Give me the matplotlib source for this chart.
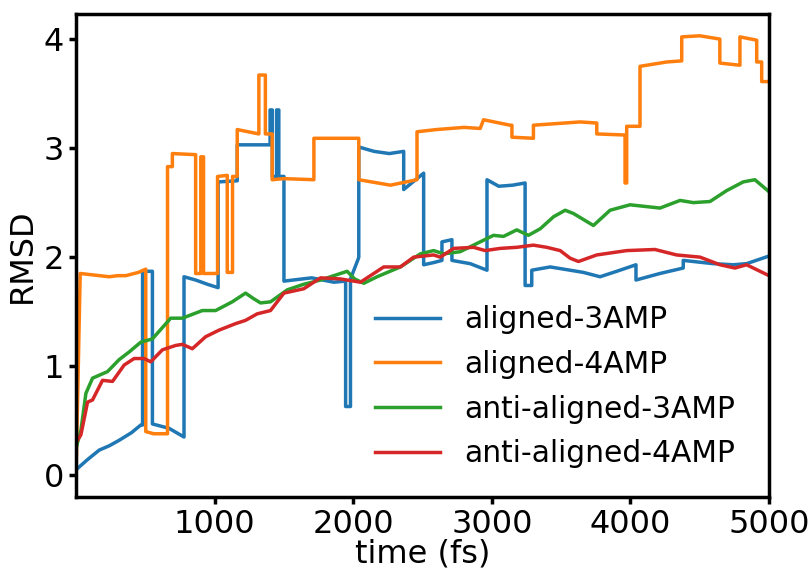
import matplotlib
matplotlib.use("Agg")
import matplotlib.pyplot as plt

labels = ["aligned-3AMP", "aligned-4AMP", "anti-aligned-3AMP", "anti-aligned-4AMP"]
colors = ["#1f77b4", "#ff7f0e", "#2ca02c", "#d62728"]

a3_t = [0, 80, 167, 240, 311, 400, 467, 480, 480, 551, 551, 671, 779, 779, 863, 950, 1025, 1025, 1163, 1163,
        1400, 1400, 1416, 1416, 1447, 1447, 1463, 1463, 1500, 1500, 1700, 1860, 1945, 1945, 1980,
        1980, 2035, 2040, 2040, 2150, 2260, 2364, 2364, 2508, 2508, 2580, 2640, 2640, 2712, 2712,
        2844, 2965, 2965, 3050, 3150, 3240, 3240, 3288, 3288, 3421, 3565, 3660, 3781, 3901, 4040,
        4040, 4213, 4381, 4381, 4598, 4742, 4838, 5000]
a3_v = [0.05, 0.14, 0.23, 0.27, 0.32, 0.39, 0.46, 0.46, 1.87, 1.87, 0.47, 0.43, 0.35, 1.82, 1.79, 1.75, 1.72, 2.69, 2.70, 3.03,
        3.03, 3.35, 3.35, 2.74, 2.74, 3.35, 3.35, 2.74, 2.74, 1.78, 1.81, 1.77, 1.78, 0.63, 0.63,
        1.80, 1.98, 2.00, 3.01, 2.97, 2.95, 2.97, 2.62, 2.77, 1.93, 1.95, 1.97, 2.14, 2.16, 1.97,
        1.94, 1.88, 2.71, 2.65, 2.66, 2.68, 1.74, 1.74, 1.88, 1.91, 1.88, 1.86, 1.82, 1.87, 1.93,
        1.79, 1.85, 1.90, 1.97, 1.94, 1.93, 1.94, 2.01]

a4_t = [0, 30, 100, 239, 300, 359, 450, 503, 503, 560, 660, 660, 695, 695, 863, 863, 900, 900, 920, 920,
        1021, 1021, 1091, 1091, 1129, 1129, 1163, 1163, 1319, 1319, 1366, 1366, 1415, 1415, 1500,
        1716, 1716, 2040, 2040, 2268, 2460, 2460, 2600, 2800, 2916, 2940, 3132, 3145, 3145, 3300,
        3300, 3637, 3757, 3757, 3961, 3961, 3973, 3973, 4069, 4069, 4262, 4370, 4370, 4500, 4645,
        4645, 4790, 4790, 4911, 4911, 4947, 4947, 5000]
a4_v = [0.00, 1.85, 1.84, 1.82, 1.83, 1.83, 1.86, 1.89, 0.40, 0.38, 0.38, 2.83, 2.83, 2.95, 2.94, 1.85, 1.85,
        2.92, 2.92, 1.85, 1.85, 2.74, 2.75, 1.86, 1.86, 2.74, 2.74, 3.17, 3.13, 3.67, 3.67, 3.13, 3.13,
        2.71, 2.72, 2.71, 3.09, 3.09, 2.71, 2.66, 2.71, 3.15, 3.17, 3.19, 3.18, 3.26, 3.21, 3.21,
        3.10, 3.09, 3.21, 3.24, 3.23, 3.13, 3.12, 2.68, 2.68, 3.20, 3.20, 3.75, 3.79, 3.80, 4.02,
        4.03, 4.00, 3.78, 3.76, 4.02, 3.99, 3.79, 3.79, 3.61, 3.61]

aa3_t = [0, 35, 71, 119, 227, 311, 383, 467, 551, 683, 767, 911, 1007, 1127, 1223,
         1280, 1331, 1403, 1524, 1640, 1764, 1860, 1956, 2010, 2076, 2172, 2340, 2484, 2580, 2652,
         2772, 2916, 3012, 3084, 3180, 3264, 3349, 3445, 3529, 3589, 3733, 3853, 3997, 4213, 4358,
         4454, 4574, 4694, 4814, 4898, 5000]
aa3_v = [0.25, 0.41, 0.75, 0.89, 0.95, 1.06, 1.13, 1.22, 1.25, 1.44, 1.44, 1.51, 1.51, 1.59, 1.67,
         1.62, 1.58, 1.59, 1.70, 1.75, 1.79, 1.83, 1.87, 1.80, 1.76, 1.82, 1.91, 2.03, 2.06, 2.03,
         2.05, 2.14, 2.20, 2.19, 2.25, 2.20, 2.26, 2.37, 2.43, 2.40, 2.29, 2.43, 2.48, 2.45, 2.52,
         2.50, 2.51, 2.61, 2.69, 2.71, 2.60]

aa4_t = [0, 35, 83, 119, 191, 263, 347, 419, 491, 539, 623, 719, 767, 839, 935, 1031, 1151, 1223,
         1307, 1403, 1500, 1643, 1764, 1908, 2052, 2220, 2340, 2436, 2580, 2628, 2724, 2868, 2952,
         3060, 3180, 3300, 3396, 3493, 3565, 3625, 3757, 3973, 4177, 4333, 4502, 4646, 4754, 4838, 5000]
aa4_v = [0.30, 0.37, 0.67, 0.69, 0.87, 0.86, 1.01, 1.07, 1.07, 1.04, 1.15, 1.19, 1.20, 1.16, 1.27, 1.33,
         1.39, 1.42, 1.48, 1.51, 1.67, 1.71, 1.81, 1.80, 1.77, 1.91, 1.91, 2.00, 2.02, 2.00, 2.08, 2.09,
         2.06, 2.08, 2.09, 2.11, 2.09, 2.06, 1.99, 1.96, 2.02, 2.06, 2.07, 2.02, 2.00, 1.93, 1.90, 1.93, 1.83]

series = [(a3_t, a3_v), (a4_t, a4_v), (aa3_t, aa3_v), (aa4_t, aa4_v)]

fig = plt.figure(figsize=(8.09, 5.71), dpi=100)
ax = fig.add_axes([0.094, 0.1296, 0.8566, 0.8459])
for (t, v), lab, c in zip(series, labels, colors):
    ax.plot(t, v, color=c, lw=2.5, label=lab)

ax.set_xlim(0, 5000)
ax.set_ylim(-0.2, 4.23)
ax.set_xticks([1000, 2000, 3000, 4000, 5000])
ax.set_yticks([0, 1, 2, 3, 4])
ax.tick_params(labelsize=23, width=2.5, length=5)
for s in ax.spines.values():
    s.set_linewidth(2.5)
ax.set_xlabel("time (fs)", fontsize=23, labelpad=-1)
ax.set_ylabel("RMSD", fontsize=23, labelpad=4)
ax.legend(loc="lower right", frameon=False, fontsize=21.4, handlelength=2.2,
          handletextpad=0.8, labelspacing=0.53, bbox_to_anchor=(0.989, 0.004))
fig.savefig("out.png", dpi=100)
